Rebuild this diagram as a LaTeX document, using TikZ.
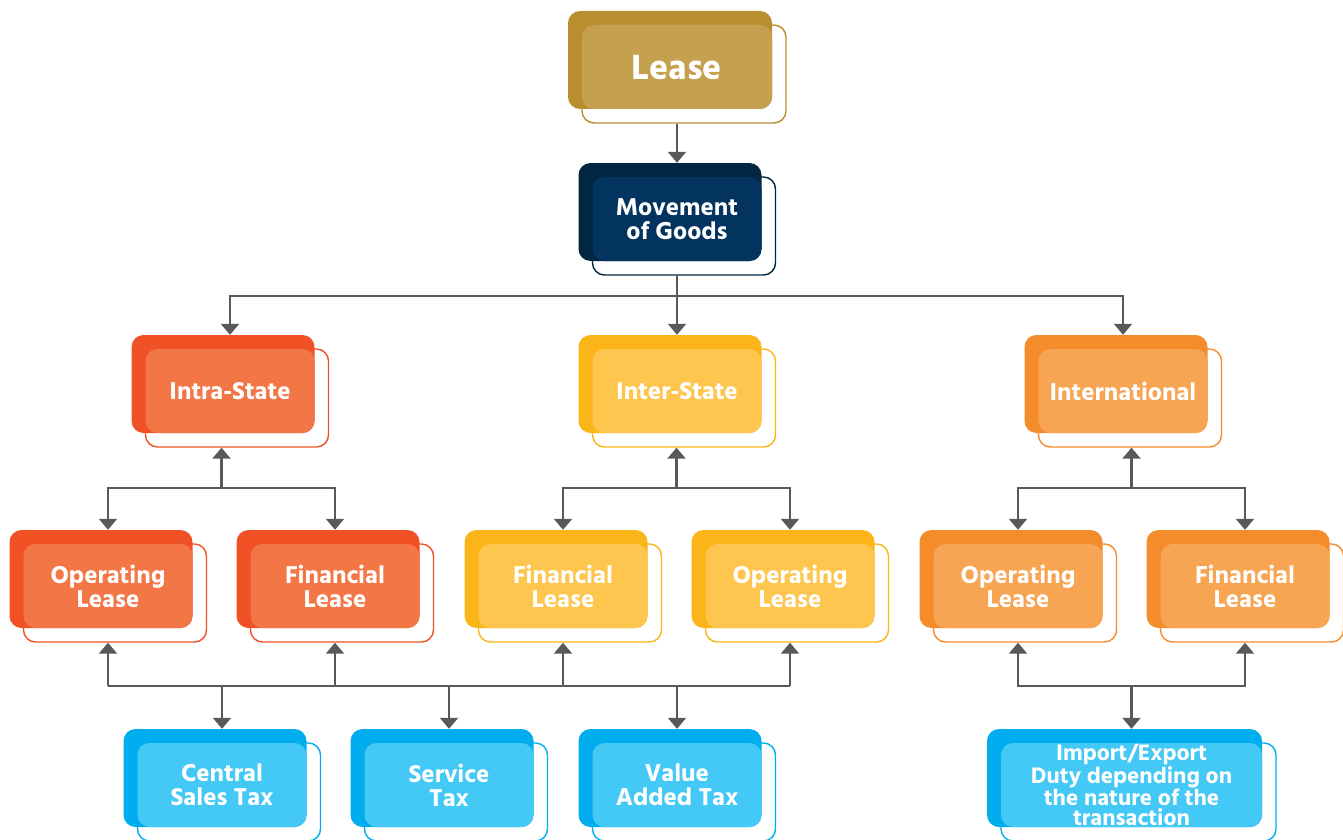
\documentclass[tikz,border=0pt]{standalone}
\usepackage{fontspec}
\newfontfamily\boxfont{Hind Siliguri}[BoldFont={* Bold}]
\usetikzlibrary{arrows.meta,calc}

\definecolor{goldD}{HTML}{B98E2F}
\definecolor{goldL}{HTML}{C5A04F}
\definecolor{navyD}{HTML}{012641}
\definecolor{navyL}{HTML}{03345F}
\definecolor{redD}{HTML}{F15225}
\definecolor{redL}{HTML}{F37646}
\definecolor{yelD}{HTML}{FBB519}
\definecolor{yelL}{HTML}{FEC64F}
\definecolor{orgD}{HTML}{F48C2B}
\definecolor{orgL}{HTML}{F7A453}
\definecolor{bluD}{HTML}{00AEEF}
\definecolor{bluL}{HTML}{44C8F5}
\definecolor{linkgray}{HTML}{58595B}

% [extra], name, x, y (centre of the front part), width, colour, text
\newcommand{\leasebox}[7][]{%
    \node[backbox, fill=#6D, minimum width=#5pt] (#2-b) at (#3-7,#4-7) {};
    \node[outbox, draw=#6D, minimum width=#5pt] (#2-o) at (#3+7,#4+7) {};
    \node[frontbox, fill=#6L, minimum width=#5pt-14pt, #1] (#2) at (#3,#4) {#7};
}

\begin{document}
\begin{tikzpicture}[
    x=1pt, y=-1pt,
    backbox/.style={rectangle, rounded corners=12pt, minimum height=98pt, inner sep=0pt},
    outbox/.style={rectangle, rounded corners=12pt, minimum height=98pt, inner sep=0pt, line width=1.4pt},
    frontbox/.style={rectangle, rounded corners=12pt, minimum height=84pt, inner sep=0pt,
        text=white, align=center, font=\boxfont\bfseries\fontsize{25}{24}\selectfont},
    tline/.style={draw=linkgray, line width=2.2pt},
    tarrow/.style={tline, -{Triangle[width=18pt,length=11pt]}},
]
\useasboundingbox (0,0) rectangle (1343,840);

% ================================================================
% TOP: lease and movement of goods
% ================================================================
\leasebox[font=\boxfont\bfseries\fontsize{36}{36}\selectfont]{lease}{677}{67}{204}{gold}{Lease}
\leasebox{move}{677}{219}{183}{navy}{Movement\\of Goods}

% ================================================================
% SECOND ROW: kind of movement
% ================================================================
\leasebox{intra}{230}{391}{183}{red}{Intra-State}
\leasebox{inter}{677}{391}{183}{yel}{Inter-State}
\leasebox{intl}{1123}{391}{183}{org}{International}

% ================================================================
% THIRD ROW: kind of lease
% ================================================================
\leasebox{oplA}{108}{586}{183}{red}{Operating\\Lease}
\leasebox{finA}{335}{586}{183}{red}{Financial\\Lease}
\leasebox{finB}{563}{586}{183}{yel}{Financial\\Lease}
\leasebox{oplB}{790}{586}{183}{yel}{Operating\\Lease}
\leasebox{oplC}{1018}{586}{183}{org}{Operating\\Lease}
\leasebox{finC}{1245}{586}{183}{org}{Financial\\Lease}

% ================================================================
% BOTTOM ROW: taxes
% ================================================================
\leasebox{cst}{222}{785}{183}{blu}{Central\\Sales Tax}
\leasebox{svc}{449}{785}{183}{blu}{Service\\Tax}
\leasebox{vat}{677}{785}{183}{blu}{Value\\Added Tax}
\leasebox[font=\boxfont\bfseries\fontsize{23}{20}\selectfont]{duty}{1131.5}{785}{275}{blu}%
    {Import/Export\\Duty depending on\\the nature of the\\transaction}

% connectors, top
\draw[tarrow] (lease |- lease-o.south) -- (move |- move-b.north);
\coordinate (busM) at (677,296);
\draw[tline] (move |- move-o.south) -- (busM);
\draw[tarrow] (busM) -| (intra |- intra-b.north);
\draw[tarrow] (busM) -| (intl |- intl-b.north);
\draw[tarrow] (busM) -- (inter |- inter-b.north);

% connectors, second to third row
\coordinate (busI) at ($(oplA)!0.5!(finA) + (0,-98)$);
\coordinate (busS) at ($(finB)!0.5!(oplB) + (0,-98)$);
\coordinate (busN) at ($(oplC)!0.5!(finC) + (0,-98)$);
\draw[tarrow] (busI) -- (busI |- intra-o.south);
\draw[tarrow] (busI) -| (oplA |- oplA-b.north);
\draw[tarrow] (busI) -| (finA |- finA-b.north);
\draw[tarrow] (busS) -- (busS |- inter-o.south);
\draw[tarrow] (busS) -| (finB |- finB-b.north);
\draw[tarrow] (busS) -| (oplB |- oplB-b.north);
\draw[tarrow] (busN) -- (busN |- intl-o.south);
\draw[tarrow] (busN) -| (oplC |- oplC-b.north);
\draw[tarrow] (busN) -| (finC |- finC-b.north);

% connectors, third to bottom row
\coordinate (lowL) at ($(oplA) + (0,100)$);
\coordinate (lowR) at ($(oplB) + (0,100)$);
\coordinate (lowD) at ($(oplC)!0.5!(finC) + (0,100)$);
\draw[tline] (lowL) -- (lowR);
\foreach \n in {oplA,finA,finB,oplB}
    \draw[tarrow] (\n |- lowL) -- (\n |- \n-o.south);
\foreach \n in {cst,svc,vat}
    \draw[tarrow] (\n |- lowL) -- (\n |- \n-b.north);
\draw[tarrow] (lowD) -| (oplC |- oplC-o.south);
\draw[tarrow] (lowD) -| (finC |- finC-o.south);
\draw[tarrow] (lowD) -- (duty |- duty-b.north);

\end{tikzpicture}
\end{document}
